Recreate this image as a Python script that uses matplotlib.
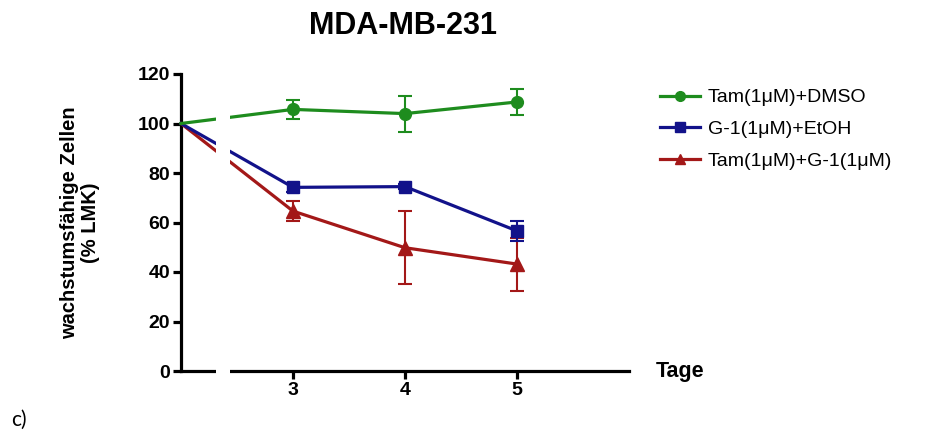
import numpy as np
import matplotlib.pyplot as plt
from matplotlib.patches import Rectangle

plt.rcParams['font.family'] = ['Liberation Sans', 'DejaVu Sans']

# Data (% LMK), day 0 = 100 %
days = [0, 3, 4, 5]
tam_dmso = [100, 105.7, 104.0, 108.7]
tam_dmso_err = [0, 3.9, 7.3, 5.4]
g1_etoh = [100, 74.2, 74.5, 56.6]
g1_etoh_err = [0, 1.8, 1.0, 4.0]
tam_g1 = [100, 64.6, 49.8, 43.2]
tam_g1_err = [0, 3.9, 14.7, 10.7]

labels = ['Tam(1\u03bcM)+DMSO', 'G-1(1\u03bcM)+EtOH', 'Tam(1\u03bcM)+G-1(1\u03bcM)']
colors = ['#1E8C1E', '#12128A', '#A31818']
markers = ['o', 's', '^']

# broken x axis: day 0 is drawn right next to the y axis
x_start = 2.0
pos = np.array([x_start if d == 0 else d for d in days], dtype=float)
gap = (2.31, 2.44)

fig = plt.figure(figsize=(9.39, 4.32), dpi=100)
ax = fig.add_axes([181 / 939, 61 / 432, 448 / 939, 297 / 432])

series = [(tam_g1, tam_g1_err, 2, 3), (g1_etoh, g1_etoh_err, 1, 4), (tam_dmso, tam_dmso_err, 0, 5)]
handles = {}
for vals, err, i, z in series:
    vals = np.array(vals)
    err = np.array(err)
    ax.plot(pos, vals, color=colors[i], lw=2.3, zorder=z, clip_on=False)
    ax.errorbar(pos[1:], vals[1:], yerr=err[1:], fmt=markers[i], color=colors[i],
                ms=8.5 if i != 2 else 9.5, elinewidth=1.5, capsize=5, capthick=1.5,
                zorder=z, clip_on=False)
    handles[i] = ax.plot([], [], color=colors[i], lw=2.3, marker=markers[i], ms=7)[0]

ax.set_xlim(x_start, 6.0)
ax.set_ylim(0, 120)
ax.set_xticks([3, 4, 5])
ax.set_yticks(np.arange(0, 121, 20))
for s in ['top', 'right']:
    ax.spines[s].set_visible(False)
for s in ['left', 'bottom']:
    ax.spines[s].set_linewidth(2.3)
ax.tick_params(width=2.3, length=6, labelsize=14, pad=2)
for lab in ax.get_xticklabels() + ax.get_yticklabels():
    lab.set_fontweight('bold')

# white gap for the axis break
ax.add_patch(Rectangle((gap[0], -4), gap[1] - gap[0], 118, facecolor='white',
                       edgecolor='none', zorder=10, clip_on=False))

ax.set_ylabel('wachstumsfähige Zellen\n(% LMK)', fontsize=14.5, fontweight='bold',
              linespacing=1.1)
ax.yaxis.set_label_coords((100 - 181) / 448, 0.5)

fig.text(403 / 939, 1 - 26 / 432, 'MDA-MB-231', fontsize=22, fontweight='bold',
         ha='center', va='center')
fig.text(656 / 939, 1 - 372 / 432, 'Tage', fontsize=15.5, fontweight='bold',
         ha='left', va='center')
fig.text(11 / 939, 1 - 420 / 432, 'c)', fontsize=15, family=['Lato', 'DejaVu Sans'],
         ha='left', va='center')

fig.legend([handles[0], handles[1], handles[2]], labels, loc='upper left',
           bbox_to_anchor=(652 / 939, 1 - 81 / 432), frameon=False, fontsize=14,
           handlelength=2.06, handletextpad=0.4, labelspacing=0.72, borderaxespad=0)

fig.savefig('out.png', dpi=100)
